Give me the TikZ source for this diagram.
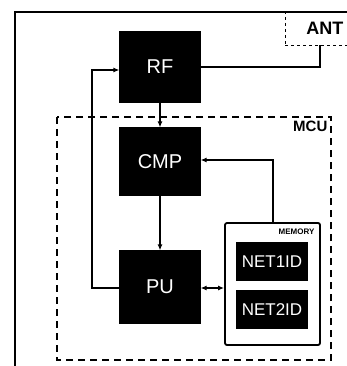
\documentclass[tikz,border=0pt]{standalone}
\usepackage{fontspec}
\setmainfont{Liberation Sans}
\usepackage{tikz}
\usetikzlibrary{arrows.meta, positioning, calc}

\begin{document}
\begin{tikzpicture}[x=1pt, y=-1pt, >={Latex[length=6pt,width=5pt]}, line width=1.2pt,
  blockbox/.style={draw, fill=black, text=white, minimum width=80pt, minimum height=70pt, inner sep=0pt, font=\fontsize{20}{22}\selectfont},
  idbox/.style={draw, fill=black, text=white, minimum width=71pt, minimum height=37pt, inner sep=0pt, font=\fontsize{17}{19}\selectfont},
  memframe/.style={draw, line width=1.8pt, fill=white, rounded corners=2pt, minimum width=95pt, minimum height=122pt, inner sep=0pt}]
\useasboundingbox (0,0) rectangle (347,366);
% outer frame
\draw[line width=2pt] (15,366) -- (15,12) -- (347,12);
% antenna and MCU frames
\node[draw, dashed, line width=0.6pt, minimum width=62pt, minimum height=33pt, inner sep=0pt] (ant) at (316,28.5) {};
\node[font=\fontsize{18}{20}\selectfont\bfseries, anchor=east, inner sep=1pt] (antlabel) at (345,28) {ANT};
\draw[dashed, line width=1.4pt, dash pattern=on 7pt off 5pt] (57,117) rectangle (331,360);
\node[font=\fontsize{15}{17}\selectfont\bfseries, anchor=north east, inner sep=1pt] (mcu) at (329,119) {MCU};
% blocks
\node[blockbox] (rf) at (160,67) {RF};
\node[blockbox, minimum height=67pt] (cmp) at (160,161.5) {CMP};
\node[blockbox, minimum height=72pt] (pu) at (160,287) {PU};
\node[memframe] (mem) at (272.5,284) {};
\node[font=\fontsize{8}{9}\selectfont\bfseries, anchor=north east, inner sep=1pt] (memlabel) at (316,227) {MEMORY};
\node[idbox] (net1) at (272,261.5) {NET1ID};
\node[idbox] (net2) at (272,309.5) {NET2ID};
% connectors
\coordinate (antfoot) at (320,45);
\coordinate (loopup) at (92,70);
\coordinate (loopdn) at (92,288);
\coordinate (fbk) at (273,160);
\draw (rf.east |- 0,67) -| (antfoot);
\draw[->] (rf) -- (cmp);
\draw[->] (cmp) -- (pu);
\draw[->] (pu.west |- loopdn) -- (loopdn) -- (loopup) -- (rf.west |- loopup);
\draw[->] (mem.north -| fbk) -- (fbk) -- (cmp.east |- fbk);
\draw[<->] (pu.east |- 0,288) -- (mem.west |- 0,288);
\end{tikzpicture}
\end{document}
